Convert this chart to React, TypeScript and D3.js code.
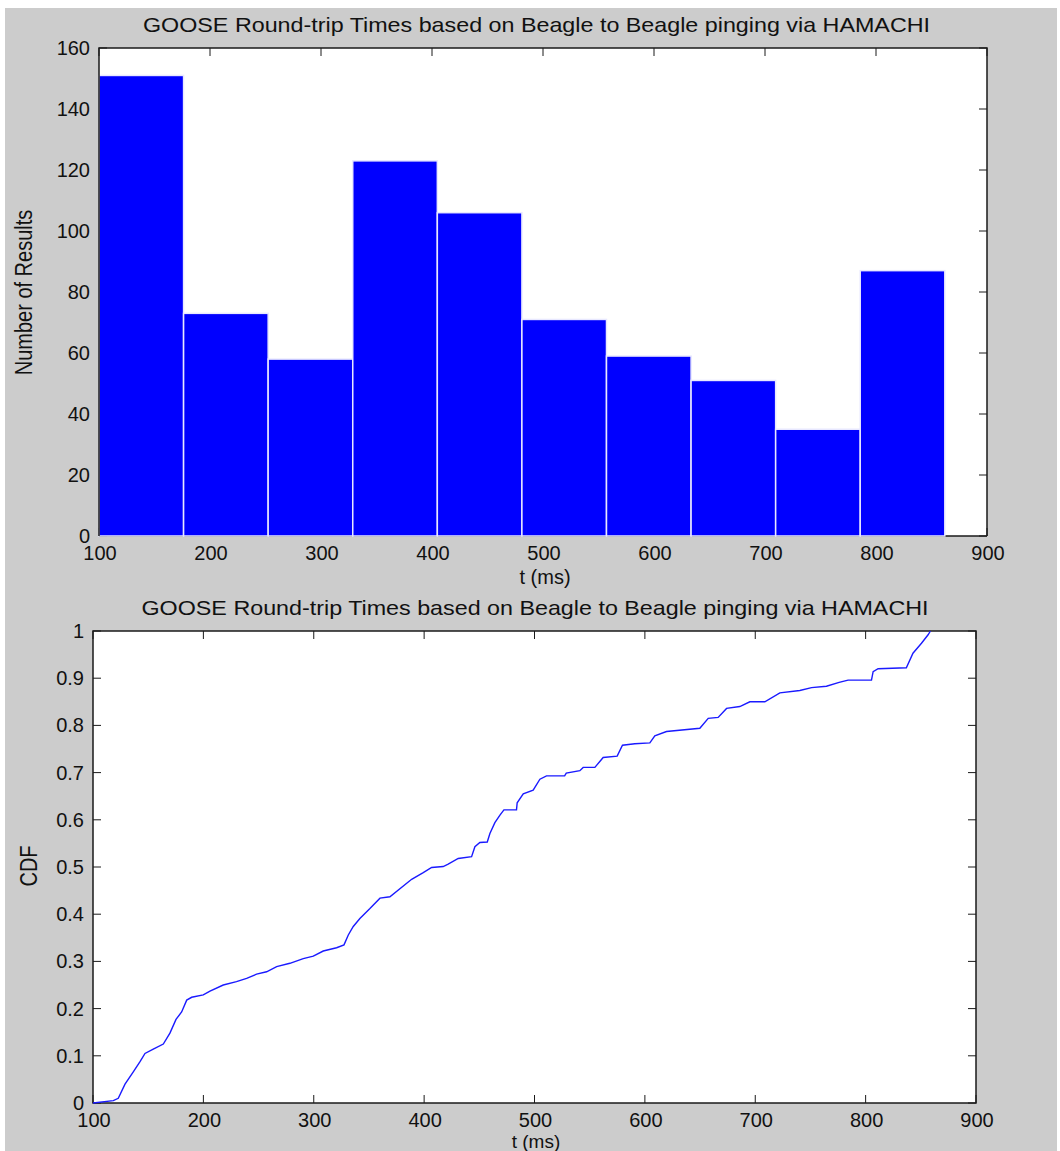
import React from "react";
import * as d3 from "d3";

// Histogram of round-trip times (10 bins)
const binEdges = [100, 176.2, 252.4, 328.6, 404.8, 481, 557.2, 633.4, 709.6, 785.8, 862];
const binCounts = [151, 73, 58, 123, 106, 71, 59, 51, 35, 87];

// Empirical CDF of the same round-trip times
const cdfTime = [
  100, 118.4, 122.9, 129, 136.5, 142.6, 147.1, 154.6, 163.7, 169.7, 175.2, 180.3, 184.9, 189.4,
  199.9, 206, 218, 230, 239.2, 248.2, 257.3, 266.4, 278.4, 290.5, 299.6, 308.6, 320.7, 327.4,
  331.3, 335.8, 341.8, 350.9, 360, 369, 388.7, 399.2, 406.8, 417.3, 421.8, 430.9, 443, 446,
  450.5, 457.2, 459.6, 464.1, 468.7, 472.3, 483.7, 484.3, 489.8, 498.8, 504.9, 510.9, 527.3,
  528.8, 541.1, 544.1, 554.7, 562.2, 574.9, 579.7, 590.9, 604.5, 609, 619.6, 649.8, 657.4,
  666.4, 674, 686, 695.1, 708.7, 722.3, 740.4, 751, 764.5, 776, 784.1, 805.3, 806.8, 811.3,
  836.9, 842.9, 850.6, 856.6, 858.7,
];
const cdfValue = [
  0, 0.005, 0.01, 0.04, 0.066, 0.0875, 0.105, 0.114, 0.125, 0.148, 0.177, 0.193, 0.218, 0.224,
  0.229, 0.237, 0.25, 0.257, 0.264, 0.273, 0.278, 0.289, 0.296, 0.306, 0.311, 0.322, 0.329, 0.335,
  0.356, 0.374, 0.391, 0.412, 0.434, 0.437, 0.474, 0.488, 0.499, 0.501, 0.506, 0.518, 0.522, 0.543,
  0.552, 0.553, 0.571, 0.594, 0.61, 0.621, 0.621, 0.636, 0.655, 0.663, 0.686, 0.693, 0.693,
  0.699, 0.704, 0.711, 0.711, 0.732, 0.735, 0.758, 0.761, 0.763, 0.778, 0.787, 0.794, 0.815,
  0.817, 0.836, 0.84, 0.85, 0.85, 0.869, 0.874, 0.88, 0.883, 0.891, 0.896, 0.896, 0.914, 0.92,
  0.922, 0.953, 0.974, 0.992, 1.0,
];

const xTicks = [100, 200, 300, 400, 500, 600, 700, 800, 900];
const histYTicks = [0, 20, 40, 60, 80, 100, 120, 140, 160];
const cdfYTicks = [0, 0.1, 0.2, 0.3, 0.4, 0.5, 0.6, 0.7, 0.8, 0.9, 1];

const titleText = "GOOSE Round-trip Times based on Beagle to Beagle pinging via HAMACHI";
const FONT = "'Liberation Sans', Arial, sans-serif";
const TICK = 8;
const AXIS = "#1a1a1a";
const TEXT = "#111";
const TICK_FS = 20;

type Box = { left: number; right: number; top: number; bottom: number };

function Frame({ box, x, y, yTicks, fmt }: { box: Box; x: d3.ScaleLinear<number, number>; y: d3.ScaleLinear<number, number>; yTicks: number[]; fmt: (v: number) => string }) {
  return (
    <g>
      {xTicks.map((t) => (
        <g key={"x" + t}>
          <line x1={x(t)} x2={x(t)} y1={box.bottom} y2={box.bottom - TICK} stroke={AXIS} strokeWidth={1} />
          <line x1={x(t)} x2={x(t)} y1={box.top} y2={box.top + TICK} stroke={AXIS} strokeWidth={1} />
        </g>
      ))}
      {yTicks.map((t) => (
        <g key={"y" + t}>
          <line x1={box.left} x2={box.left + TICK} y1={y(t)} y2={y(t)} stroke={AXIS} strokeWidth={1} />
          <line x1={box.right} x2={box.right - TICK} y1={y(t)} y2={y(t)} stroke={AXIS} strokeWidth={1} />
          <text x={box.left - 9} y={y(t) + 7} textAnchor="end" fontSize={TICK_FS} fontFamily={FONT} fill={TEXT}>
            {fmt(t)}
          </text>
        </g>
      ))}
      {xTicks.map((t) => (
        <text key={"xl" + t} x={x(t) + 1} y={box.bottom + 23.5} textAnchor="middle" fontSize={TICK_FS} fontFamily={FONT} fill={TEXT}>
          {t}
        </text>
      ))}
    </g>
  );
}

export default function App() {
  const histBox: Box = { left: 99, right: 987, top: 48, bottom: 536 };
  const cdfBox: Box = { left: 93, right: 976, top: 631, bottom: 1103 };

  const xH = d3.scaleLinear().domain([100, 900]).range([histBox.left, histBox.right]);
  const yH = d3.scaleLinear().domain([0, 160]).range([histBox.bottom, histBox.top]);
  const xC = d3.scaleLinear().domain([100, 900]).range([cdfBox.left, cdfBox.right]);
  const yC = d3.scaleLinear().domain([0, 1]).range([cdfBox.bottom, cdfBox.top]);

  const cdfPts: [number, number][] = cdfTime.map((t, i) => [t, cdfValue[i]]);
  const cdfPath = d3
    .line<[number, number]>()
    .x((d) => xC(d[0]))
    .y((d) => yC(d[1]))(cdfPts);

  const fmtCdf = (v: number) => (v === 0 ? "0" : v === 1 ? "1" : d3.format(".1f")(v));

  return (
    <svg width={1060} height={1151} style={{ position: "absolute", left: 0, top: 0 }}>
      <rect x={5} y={8} width={1052} height={1143} fill="#cccccc" />

      {/* Histogram panel */}
      <text x={536.5} y={32} textAnchor="middle" fontSize={21} fontFamily={FONT} fill={TEXT} textLength={787} lengthAdjust="spacingAndGlyphs">
        {titleText}
      </text>
      <rect x={histBox.left} y={histBox.top} width={histBox.right - histBox.left} height={histBox.bottom - histBox.top} fill="#fff" />
      <line x1={histBox.left} x2={histBox.right} y1={histBox.bottom} y2={histBox.bottom} stroke={AXIS} strokeWidth={1.5} />
      <Frame box={histBox} x={xH} y={yH} yTicks={histYTicks} fmt={(v) => String(v)} />
      {binCounts.map((c, i) => (
        <rect
          key={i}
          x={xH(binEdges[i])}
          y={yH(c)}
          width={xH(binEdges[i + 1]) - xH(binEdges[i])}
          height={yH(0) - yH(c)}
          fill="#0000ff"
          stroke="#e8e8ff"
          strokeWidth={1.5}
        />
      ))}
      <path
        d={`M${histBox.left},${histBox.bottom}V${histBox.top}H${histBox.right}V${histBox.bottom}`}
        fill="none"
        stroke={AXIS}
        strokeWidth={1.5}
      />
      <text x={545} y={584} textAnchor="middle" fontSize={TICK_FS} fontFamily={FONT} fill={TEXT}>
        t (ms)
      </text>
      <text
        transform={`translate(31.5,292.5) rotate(-90) scale(0.87,1)`}
        textAnchor="middle"
        fontSize={23}
        fontFamily={FONT}
        fill={TEXT}
      >
        Number of Results
      </text>

      {/* CDF panel */}
      <text x={535} y={615} textAnchor="middle" fontSize={21} fontFamily={FONT} fill={TEXT} textLength={787} lengthAdjust="spacingAndGlyphs">
        {titleText}
      </text>
      <rect x={cdfBox.left} y={cdfBox.top} width={cdfBox.right - cdfBox.left} height={cdfBox.bottom - cdfBox.top} fill="#fff" />
      <Frame box={cdfBox} x={xC} y={yC} yTicks={cdfYTicks} fmt={fmtCdf} />
      <rect
        x={cdfBox.left}
        y={cdfBox.top}
        width={cdfBox.right - cdfBox.left}
        height={cdfBox.bottom - cdfBox.top}
        fill="none"
        stroke={AXIS}
        strokeWidth={1.5}
      />
      <path d={cdfPath ?? ""} fill="none" stroke="#1a1aff" strokeWidth={1.4} />
      <text x={536} y={1148} textAnchor="middle" fontSize={19} fontFamily={FONT} fill={TEXT}>
        t (ms)
      </text>
      <text
        transform={`translate(37,866) rotate(-90) scale(0.87,1)`}
        textAnchor="middle"
        fontSize={23}
        fontFamily={FONT}
        fill={TEXT}
      >
        CDF
      </text>
    </svg>
  );
}
